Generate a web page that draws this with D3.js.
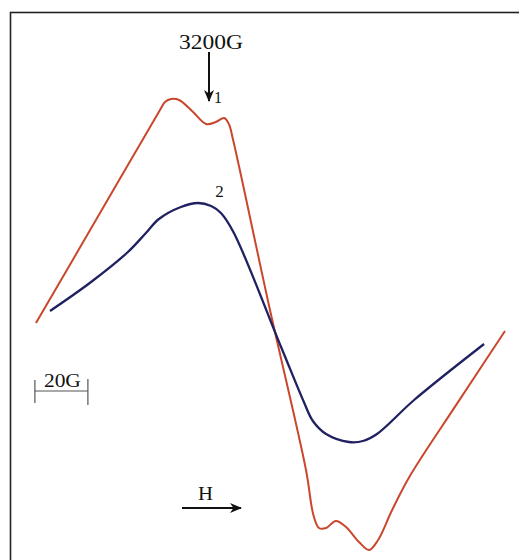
<!DOCTYPE html>
<html>
<head>
<meta charset="utf-8">
<script src="https://cdn.jsdelivr.net/npm/d3@7"></script>
<style>
  html, body { margin: 0; padding: 0; background: #fff; }
  svg { display: block; }
  text { font-family: "Liberation Serif", "DejaVu Serif", serif; fill: #111; }
</style>
</head>
<body>
<svg id="chart" width="519" height="560"></svg>
<script>
// EPR derivative spectra: magnetic field (G) vs. signal (arb. units)
const fieldRed = [3134.7, 3158.1, 3181.5, 3183.4, 3185.7, 3188.7, 3194.0, 3198.9, 3202.6,
  3205.7, 3207.5, 3209.1, 3222.6, 3236.6, 3239.4, 3241.5, 3244.2, 3247.9, 3251.7,
  3256.6, 3260.4, 3263.8, 3269.1, 3275.8, 3293.6, 3311.7];
const signalRed = [6, 59.2, 112.5, 116.5, 118, 117.5, 111.5, 105.5, 106.5,
  108.5, 105.5, 97.5, 15, -67.5, -90, -96.5, -96.5, -93, -96,
  -103.5, -107.5, -102.5, -87.5, -70.5, -34.3, 2];

const fieldBlue = [3140.0, 3155.5, 3169.4, 3176.2, 3181.1, 3189.4, 3195.8, 3200.8, 3204.5, 3209.4,
  3227.2, 3235.8, 3239.2, 3244.2, 3252.8, 3258.1, 3263.4, 3277.4, 3303.8];
const signalBlue = [12, 26.5, 41.5, 51, 58, 64, 66, 64.5, 61, 51,
  -6, -33.5, -43, -49.5, -53.5, -53, -49.5, -32.5, -4.5];

const curveLabels = ["1", "2"];
const markerField = 3200;           // arrow marker, G
const markerLabel = "3200G";
const scaleBarStart = 3134.3;       // 20 G scale bar
const scaleBarLength = 20;
const scaleBarLabel = "20G";
const fieldLabel = "H";

const svg = d3.select("#chart");

const x = d3.scaleLinear().domain([3120, 3320]).range([-3, 527]);
const y = d3.scaleLinear().domain([-120, 120]).range([575, 95]);

// frame (open on the right and bottom edges)
svg.append("rect")
  .attr("x", 10.5).attr("y", 12.5)
  .attr("width", 540).attr("height", 600)
  .attr("fill", "none").attr("stroke", "#222").attr("stroke-width", 1.6);

const defs = svg.append("defs");
defs.append("marker")
  .attr("id", "head")
  .attr("viewBox", "0 0 12 10")
  .attr("refX", 11).attr("refY", 5)
  .attr("markerWidth", 12).attr("markerHeight", 10)
  .attr("markerUnits", "userSpaceOnUse")
  .attr("orient", "auto")
  .append("path")
  .attr("d", "M0,0 L12,5 L0,10 L3.5,5 Z")
  .attr("fill", "#111");

const line = d3.line()
  .x(d => x(d[0]))
  .y(d => y(d[1]))
  .curve(d3.curveCatmullRom.alpha(0.5));

const redData = d3.zip(fieldRed, signalRed);
const blueData = d3.zip(fieldBlue, signalBlue);

svg.append("path")
  .datum(redData)
  .attr("d", line)
  .attr("fill", "none")
  .attr("stroke", "#c9472c")
  .attr("stroke-width", 2)
  .attr("stroke-linejoin", "round");

svg.append("path")
  .datum(blueData)
  .attr("d", line)
  .attr("fill", "none")
  .attr("stroke", "#1f2160")
  .attr("stroke-width", 2.3)
  .attr("stroke-linejoin", "round");

// 3200 G marker arrow
const mx = x(markerField);
svg.append("line")
  .attr("x1", mx).attr("x2", mx)
  .attr("y1", y(141.5)).attr("y2", y(117))
  .attr("stroke", "#111").attr("stroke-width", 2)
  .attr("marker-end", "url(#head)");
svg.append("text")
  .attr("x", mx - 30).attr("y", 49)
  .attr("font-size", 20)
  .attr("textLength", 64).attr("lengthAdjust", "spacingAndGlyphs")
  .text(markerLabel);

// curve labels
svg.append("text")
  .attr("x", mx + 5).attr("y", 103)
  .attr("font-size", 16)
  .text(curveLabels[0]);
svg.append("text")
  .attr("x", x(3202.4)).attr("y", 197)
  .attr("font-size", 17)
  .text(curveLabels[1]);

// scale bar
const sb0 = x(scaleBarStart), sb1 = x(scaleBarStart + scaleBarLength);
const sbY = 391;
const sb = svg.append("g").attr("stroke", "#555").attr("stroke-width", 1.2);
sb.append("line").attr("x1", sb0).attr("x2", sb1).attr("y1", sbY).attr("y2", sbY);
sb.append("line").attr("x1", sb0).attr("x2", sb0).attr("y1", 380).attr("y2", 403);
sb.append("line").attr("x1", sb1).attr("x2", sb1).attr("y1", 379).attr("y2", 405);
svg.append("text")
  .attr("x", sb0 + 9).attr("y", 387)
  .attr("font-size", 18)
  .attr("textLength", 37).attr("lengthAdjust", "spacingAndGlyphs")
  .text(scaleBarLabel);

// field direction arrow
svg.append("line")
  .attr("x1", 182).attr("x2", 241)
  .attr("y1", 508).attr("y2", 508)
  .attr("stroke", "#111").attr("stroke-width", 2)
  .attr("marker-end", "url(#head)");
svg.append("text")
  .attr("x", 198).attr("y", 500)
  .attr("font-size", 19)
  .attr("textLength", 15).attr("lengthAdjust", "spacingAndGlyphs")
  .text(fieldLabel);
</script>
</body>
</html>
